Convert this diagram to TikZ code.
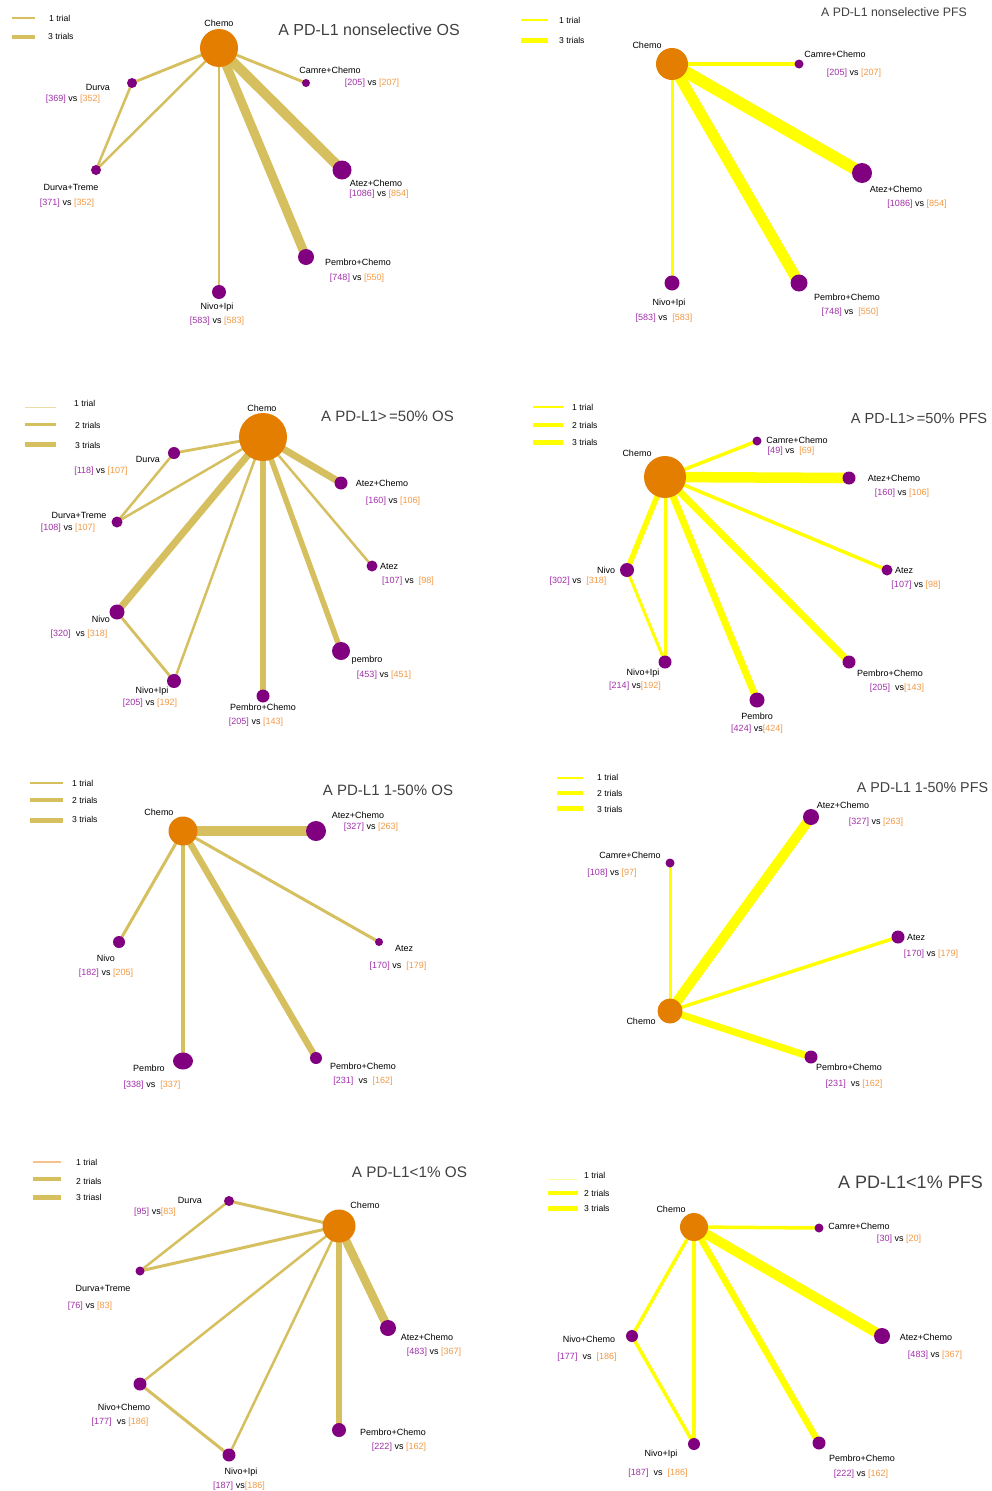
\documentclass[tikz,border=0pt]{standalone}
\usepackage{fontspec}
\setmainfont{Liberation Sans}
\usetikzlibrary{backgrounds,shapes.geometric}
\definecolor{osc}{HTML}{D5BF5F}
\definecolor{pfsc}{HTML}{FFFF00}
\definecolor{chemoc}{HTML}{E47E00}
\definecolor{treatc}{HTML}{800080}
\definecolor{npur}{HTML}{A030A8}
\definecolor{nora}{HTML}{F29A45}
\definecolor{titlec}{HTML}{404040}
\definecolor{lightos}{HTML}{E8DCA8}
\definecolor{lightor}{HTML}{F8C08C}
\definecolor{lightyel}{HTML}{FFFF99}
\newcommand{\numP}[1]{\textcolor{npur}{[#1]}}
\newcommand{\numO}[1]{\textcolor{nora}{[#1]}}
\tikzset{
  chemonode/.style={circle, fill=chemoc, inner sep=0pt, minimum size=#1},
  trnode/.style={circle, fill=treatc, inner sep=0pt, minimum size=#1},
  lab/.style={inner sep=0pt, font=\fontsize{9}{10}\selectfont},
  leg/.style={inner sep=0pt, anchor=west, font=\fontsize{8.6}{10}\selectfont},
  ttl/.style={inner sep=0pt, text=titlec, font=\fontsize{#1}{#1}\selectfont},
  osedge/.style={draw=osc, line width=#1},
  pfsedge/.style={draw=pfsc, line width=#1},
}
\begin{document}
\begin{tikzpicture}[x=1pt,y=-1pt]
\begin{scope}[on background layer]
\fill[white] (0,0) rectangle (992,1491);
\end{scope}
\useasboundingbox (0,0) rectangle (992,1491);

% ================= Panel 1: nonselective OS =================
\node[ttl=16] (a-t) at (369,30) {A PD-L1 nonselective OS};
\draw[osc, line width=1.5] (12,18) -- (35,18);
\draw[osc, line width=4.5] (12,37) -- (35,37);
\node[leg] (a-l1) at (49,18) {1 trial};
\node[leg] (a-l3) at (48,36) {3 trials};
\node[chemonode=38pt] (a0) at (219,48) {};
\node[trnode=10pt] (a1) at (132,83) {};
\node[trnode=10pt] (a2) at (96,170) {};
\node[trnode=8pt] (a3) at (306,83) {};
\node[trnode=19pt] (a4) at (342,170) {};
\node[trnode=16pt] (a5) at (306,257) {};
\node[trnode=14pt] (a6) at (219,292) {};
\node[lab] (a0l) at (219,23) {Chemo};
\node[lab] (a1l) at (98,87) {Durva};
\node[lab] (a1n) at (73,99) {\numP{369} vs \numO{352}};
\node[lab] (a2l) at (71,187) {Durva+Treme};
\node[lab] (a2n) at (67,203) {\numP{371} vs \numO{352}};
\node[lab] (a3l) at (330,70) {Camre+Chemo};
\node[lab] (a3n) at (372,83) {\numP{205} vs \numO{207}};
\node[lab] (a4l) at (376,183) {Atez+Chemo};
\node[lab] (a4n) at (379,194) {\numP{1086} vs \numO{854}};
\node[lab] (a5l) at (358,262) {Pembro+Chemo};
\node[lab] (a5n) at (357,278) {\numP{748} vs \numO{550}};
\node[lab] (a6l) at (217,307) {Nivo+Ipi};
\node[lab] (a6n) at (217,321) {\numP{583} vs \numO{583}};
\begin{scope}[on background layer]
\draw[osedge=2.8] (a0.center) -- (a1.center);
\draw[osedge=2.5] (a1.center) -- (a2.center);
\draw[osedge=2.5] (a0.center) -- (a2.center);
\draw[osedge=2.8] (a0.center) -- (a3.center);
\draw[osedge=10] (a0.center) -- (a4.center);
\draw[osedge=9] (a0.center) -- (a5.center);
\draw[osedge=2.5] (a0.center) -- (a6.center);
\end{scope}

% ================= Panel 2: nonselective PFS =================
\node[ttl=12.3] (b-t) at (894,12) {A PD-L1 nonselective PFS};
\draw[pfsc, line width=1.5] (521,20) -- (548,20);
\draw[pfsc, line width=5] (521,40) -- (548,40);
\node[leg] (b-l1) at (559,20) {1 trial};
\node[leg] (b-l3) at (559,40) {3 trials};
\node[chemonode=32pt] (b0) at (672,64) {};
\node[trnode=9pt] (b1) at (799,64) {};
\node[trnode=20pt] (b2) at (862,173) {};
\node[trnode=17pt] (b3) at (799,283) {};
\node[trnode=15pt] (b4) at (672,283) {};
\node[lab] (b0l) at (647,45) {Chemo};
\node[lab] (b1l) at (835,54) {Camre+Chemo};
\node[lab] (b1n) at (854,73) {\numP{205} vs \numO{207}};
\node[lab] (b2l) at (896,189) {Atez+Chemo};
\node[lab] (b2n) at (917,204) {\numP{1086} vs \numO{854}};
\node[lab] (b3l) at (847,297) {Pembro+Chemo};
\node[lab] (b3n) at (850,312) {\numP{748} vs\ \ \numO{550}};
\node[lab] (b4l) at (669,303) {Nivo+Ipi};
\node[lab] (b4n) at (664,318) {\numP{583} vs\ \ \numO{583}};
\begin{scope}[on background layer]
\draw[pfsedge=3.5] (b0.center) -- (b1.center);
\draw[pfsedge=12] (b0.center) -- (b2.center);
\draw[pfsedge=11] (b0.center) -- (b3.center);
\draw[pfsedge=3] (b0.center) -- (b4.center);
\end{scope}

% ================= Panel 3: >=50% OS =================
\node[ttl=15] (c-t) at (387.5,416) {A PD-L1>\,=50\% OS};
\draw[lightos, line width=0.8] (25,407) -- (56,407);
\draw[osc, line width=3] (25,424) -- (56,424);
\draw[osc, line width=5] (25,444) -- (56,444);
\node[leg] (c-l1) at (74,403) {1 trial};
\node[leg] (c-l2) at (75,425) {2 trials};
\node[leg] (c-l3) at (75,445) {3 trials};
\node[chemonode=48pt] (c0) at (263,437) {};
\node[trnode=12pt] (c1) at (174,453) {};
\node[trnode=11pt] (c2) at (117,522) {};
\node[trnode=13pt] (c3) at (341,483) {};
\node[trnode=11pt] (c4) at (372,566) {};
\node[trnode=15pt] (c5) at (117,612) {};
\node[trnode=14pt] (c6) at (174,681) {};
\node[trnode=13pt] (c7) at (263,696) {};
\node[trnode=18pt] (c8) at (341,651) {};
\node[lab] (c0l) at (262,408) {Chemo};
\node[lab] (c1l) at (148,459) {Durva};
\node[lab] (c1n) at (101,471) {\numP{118} vs \numO{107}};
\node[lab] (c2l) at (79,515) {Durva+Treme};
\node[lab] (c2n) at (68,528) {\numP{108} vs \numO{107}};
\node[lab] (c3l) at (382,483) {Atez+Chemo};
\node[lab] (c3n) at (393,501) {\numP{160} vs \numO{106}};
\node[lab] (c4l) at (389,566) {Atez};
\node[lab] (c4n) at (408,581) {\numP{107} vs\ \ \numO{98}};
\node[lab] (c5l) at (101,619) {Nivo};
\node[lab] (c5n) at (79,634) {\numP{320}\ \ vs \numO{318}};
\node[lab] (c6l) at (152,691) {Nivo+Ipi};
\node[lab] (c6n) at (150,703) {\numP{205} vs \numO{192}};
\node[lab] (c7l) at (263,707) {Pembro+Chemo};
\node[lab] (c7n) at (256,722) {\numP{205} vs \numO{143}};
\node[lab] (c8l) at (367,660) {pembro};
\node[lab] (c8n) at (384,675) {\numP{453} vs \numO{451}};
\begin{scope}[on background layer]
\draw[osedge=2.8] (c0.center) -- (c1.center);
\draw[osedge=2.5] (c1.center) -- (c2.center);
\draw[osedge=2.5] (c0.center) -- (c2.center);
\draw[osedge=7] (c0.center) -- (c5.center);
\draw[osedge=2.8] (c5.center) -- (c6.center);
\draw[osedge=2.5] (c0.center) -- (c6.center);
\draw[osedge=5.5] (c0.center) -- (c7.center);
\draw[osedge=5.5] (c0.center) -- (c8.center);
\draw[osedge=2.5] (c0.center) -- (c4.center);
\draw[osedge=7] (c0.center) -- (c3.center);
\end{scope}

% ================= Panel 4: >=50% PFS =================
\node[ttl=14.6] (d-t) at (919,418) {A PD-L1>\,=50\% PFS};
\draw[pfsc, line width=2] (533,407) -- (563,407);
\draw[pfsc, line width=4] (533,425) -- (563,425);
\draw[pfsc, line width=5] (533,442) -- (563,442);
\node[leg] (d-l1) at (572,407) {1 trial};
\node[leg] (d-l2) at (572,425) {2 trials};
\node[leg] (d-l3) at (572,442) {3 trials};
\node[chemonode=42pt] (d0) at (665,477) {};
\node[trnode=9pt] (d1) at (757,441) {};
\node[trnode=13pt] (d2) at (849,478) {};
\node[trnode=11pt] (d3) at (887,570) {};
\node[trnode=14pt] (d4) at (627,570) {};
\node[trnode=13pt] (d5) at (665,662) {};
\node[trnode=15pt] (d6) at (757,700) {};
\node[trnode=13pt] (d7) at (849,662) {};
\node[lab] (d0l) at (637,453) {Chemo};
\node[lab] (d1l) at (797,440) {Camre+Chemo};
\node[lab] (d1n) at (791,451) {\numP{49} vs\ \ \numO{69}};
\node[lab] (d2l) at (894,478) {Atez+Chemo};
\node[lab] (d2n) at (902,493) {\numP{160} vs \numO{106}};
\node[lab] (d3l) at (904,570) {Atez};
\node[lab] (d3n) at (916,585) {\numP{107} vs \numO{98}};
\node[lab] (d4l) at (606,570) {Nivo};
\node[lab] (d4n) at (578,581) {\numP{302} vs\ \ \numO{318}};
\node[lab] (d5l) at (643,673) {Nivo+Ipi};
\node[lab] (d5n) at (635,686) {\numP{214} vs\numO{192}};
\node[lab] (d6l) at (757,716) {Pembro};
\node[lab] (d6n) at (757,729) {\numP{424} vs\numO{424}};
\node[lab] (d7l) at (890,673) {Pembro+Chemo};
\node[lab] (d7n) at (897,688) {\numP{205}\ \ vs\numO{143}};
\begin{scope}[on background layer]
\draw[pfsedge=3.5] (d0.center) -- (d1.center);
\draw[pfsedge=10.5] (d0.center) -- (d2.center);
\draw[pfsedge=3.5] (d0.center) -- (d3.center);
\draw[pfsedge=5.5] (d0.center) -- (d4.center);
\draw[pfsedge=3] (d4.center) -- (d5.center);
\draw[pfsedge=3] (d0.center) -- (d5.center);
\draw[pfsedge=7] (d0.center) -- (d6.center);
\draw[pfsedge=7] (d0.center) -- (d7.center);
\end{scope}

% ================= Panel 5: 1-50% OS =================
\node[ttl=15] (e-t) at (388,790) {A PD-L1 1-50\% OS};
\draw[osc, line width=1.2] (30,783) -- (63,783);
\draw[osc, line width=3.5] (30,800) -- (63,800);
\draw[osc, line width=5] (30,820) -- (63,820);
\node[leg] (e-l1) at (72,783) {1 trial};
\node[leg] (e-l2) at (72,800) {2 trials};
\node[leg] (e-l3) at (72,819) {3 trials};
\node[chemonode=29pt] (e0) at (183,831) {};
\node[trnode=20pt] (e1) at (316,831) {};
\node[trnode=8pt] (e2) at (379,942) {};
\node[trnode=12pt] (e3) at (119,942) {};
\node[ellipse, fill=treatc, inner sep=0pt, minimum width=20pt, minimum height=17pt] (e4) at (183,1061) {};
\node[trnode=12pt] (e5) at (316,1058) {};
\node[lab] (e0l) at (159,812) {Chemo};
\node[lab] (e1l) at (358,815) {Atez+Chemo};
\node[lab] (e1n) at (371,827) {\numP{327} vs \numO{263}};
\node[lab] (e2l) at (404,948) {Atez};
\node[lab] (e2n) at (398,966) {\numP{170} vs\ \ \numO{179}};
\node[lab] (e3l) at (106,958) {Nivo};
\node[lab] (e3n) at (106,973) {\numP{182} vs \numO{205}};
\node[lab] (e4l) at (149,1068) {Pembro};
\node[lab] (e4n) at (152,1085) {\numP{338} vs\ \ \numO{337}};
\node[lab] (e5l) at (363,1066) {Pembro+Chemo};
\node[lab] (e5n) at (363,1081) {\numP{231}\ \ vs\ \ \numO{162}};
\begin{scope}[on background layer]
\draw[osedge=10.5] (e0.center) -- (e1.center);
\draw[osedge=3] (e0.center) -- (e2.center);
\draw[osedge=3] (e0.center) -- (e3.center);
\draw[osedge=3.5] (e0.center) -- (e4.center);
\draw[osedge=6.5] (e0.center) -- (e5.center);
\end{scope}

% ================= Panel 6: 1-50% PFS =================
\node[ttl=14.3] (f-t) at (922.5,788) {A PD-L1 1-50\% PFS};
\draw[pfsc, line width=1.5] (557,778) -- (583,778);
\draw[pfsc, line width=4] (557,793) -- (583,793);
\draw[pfsc, line width=5] (557,808) -- (583,808);
\node[leg] (f-l1) at (597,777) {1 trial};
\node[leg] (f-l2) at (597,793) {2 trials};
\node[leg] (f-l3) at (597,809) {3 trials};
\node[chemonode=25pt] (f0) at (670,1011) {};
\node[trnode=16pt] (f1) at (811,817) {};
\node[trnode=9pt] (f2) at (670,863) {};
\node[trnode=13pt] (f3) at (898,937) {};
\node[trnode=13pt] (f4) at (811,1057) {};
\node[lab] (f0l) at (641,1021) {Chemo};
\node[lab] (f1l) at (843,805) {Atez+Chemo};
\node[lab] (f1n) at (876,822) {\numP{327} vs \numO{263}};
\node[lab] (f2l) at (630,855) {Camre+Chemo};
\node[lab] (f2n) at (612,873) {\numP{108} vs \numO{97}};
\node[lab] (f3l) at (916,937) {Atez};
\node[lab] (f3n) at (931,954) {\numP{170} vs \numO{179}};
\node[lab] (f4l) at (849,1067) {Pembro+Chemo};
\node[lab] (f4n) at (854,1084) {\numP{231}\ \ vs \numO{162}};
\begin{scope}[on background layer]
\draw[pfsedge=3] (f0.center) -- (f2.center);
\draw[pfsedge=10] (f0.center) -- (f1.center);
\draw[pfsedge=3.5] (f0.center) -- (f3.center);
\draw[pfsedge=7] (f0.center) -- (f4.center);
\end{scope}

% ================= Panel 7: <1% OS =================
\node[ttl=15.3] (g-t) at (409.5,1172) {A PD-L1<1\% OS};
\draw[lightor, line width=1.2] (33,1162) -- (61,1162);
\draw[osc, line width=4] (33,1179) -- (61,1179);
\draw[osc, line width=5] (33,1197) -- (61,1197);
\node[leg] (g-l1) at (76,1162) {1 trial};
\node[leg] (g-l2) at (76,1181) {2 trials};
\node[leg] (g-l3) at (76,1197) {3 triasl};
\node[chemonode=33pt] (g0) at (339,1226) {};
\node[trnode=10pt] (g1) at (229,1201) {};
\node[trnode=9pt] (g2) at (140,1271) {};
\node[trnode=16pt] (g3) at (388,1328) {};
\node[trnode=14pt] (g4) at (339,1430) {};
\node[trnode=13pt] (g5) at (140,1384) {};
\node[trnode=13pt] (g6) at (229,1455) {};
\node[lab] (g0l) at (365,1205) {Chemo};
\node[lab] (g1l) at (190,1200) {Durva};
\node[lab] (g1n) at (155,1212) {\numP{95} vs\numO{83}};
\node[lab] (g2l) at (103,1288) {Durva+Treme};
\node[lab] (g2n) at (90,1306) {\numP{76} vs \numO{83}};
\node[lab] (g3l) at (427,1337) {Atez+Chemo};
\node[lab] (g3n) at (434,1352) {\numP{483} vs \numO{367}};
\node[lab] (g4l) at (393,1432) {Pembro+Chemo};
\node[lab] (g4n) at (399,1447) {\numP{222} vs \numO{162}};
\node[lab] (g5l) at (124,1407) {Nivo+Chemo};
\node[lab] (g5n) at (120,1422) {\numP{177}\ \ vs \numO{186}};
\node[lab] (g6l) at (241,1472) {Nivo+Ipi};
\node[lab] (g6n) at (239,1486) {\numP{187} vs\numO{186}};
\begin{scope}[on background layer]
\draw[osedge=3] (g0.center) -- (g1.center);
\draw[osedge=2.5] (g1.center) -- (g2.center);
\draw[osedge=3] (g0.center) -- (g2.center);
\draw[osedge=2.5] (g0.center) -- (g5.center);
\draw[osedge=3] (g5.center) -- (g6.center);
\draw[osedge=2.5] (g0.center) -- (g6.center);
\draw[osedge=6.5] (g0.center) -- (g4.center);
\draw[osedge=8.5] (g0.center) -- (g3.center);
\end{scope}

% ================= Panel 8: <1% PFS =================
\node[ttl=18] (h-t) at (910.5,1182) {A PD-L1<1\% PFS};
\draw[lightyel, line width=0.8] (548,1179) -- (578,1179);
\draw[pfsc, line width=4] (548,1193) -- (578,1193);
\draw[pfsc, line width=5] (548,1208) -- (578,1208);
\node[leg] (h-l1) at (584,1175) {1 trial};
\node[leg] (h-l2) at (584,1193) {2 trials};
\node[leg] (h-l3) at (584,1208) {3 trials};
\node[chemonode=28pt] (h0) at (694,1227) {};
\node[trnode=9pt] (h1) at (819,1228) {};
\node[trnode=16pt] (h2) at (882,1336) {};
\node[trnode=12pt] (h3) at (632,1336) {};
\node[trnode=12pt] (h4) at (694,1444) {};
\node[trnode=13pt] (h5) at (819,1443) {};
\node[lab] (h0l) at (671,1209) {Chemo};
\node[lab] (h1l) at (859,1226) {Camre+Chemo};
\node[lab] (h1n) at (899,1239) {\numP{30} vs \numO{20}};
\node[lab] (h2l) at (926,1337) {Atez+Chemo};
\node[lab] (h2n) at (935,1355) {\numP{483} vs \numO{367}};
\node[lab] (h3l) at (589,1339) {Nivo+Chemo};
\node[lab] (h3n) at (587,1357) {\numP{177}\ \ vs\ \ \numO{186}};
\node[lab] (h4l) at (661,1454) {Nivo+Ipi};
\node[lab] (h4n) at (658,1473) {\numP{187}\ \ vs\ \ \numO{186}};
\node[lab] (h5l) at (862,1458) {Pembro+Chemo};
\node[lab] (h5n) at (861,1474) {\numP{222} vs \numO{162}};
\begin{scope}[on background layer]
\draw[pfsedge=3.5] (h0.center) -- (h1.center);
\draw[pfsedge=10] (h0.center) -- (h2.center);
\draw[pfsedge=3.5] (h0.center) -- (h3.center);
\draw[pfsedge=3.5] (h3.center) -- (h4.center);
\draw[pfsedge=3.5] (h0.center) -- (h4.center);
\draw[pfsedge=6.5] (h0.center) -- (h5.center);
\end{scope}
\end{tikzpicture}
\end{document}
